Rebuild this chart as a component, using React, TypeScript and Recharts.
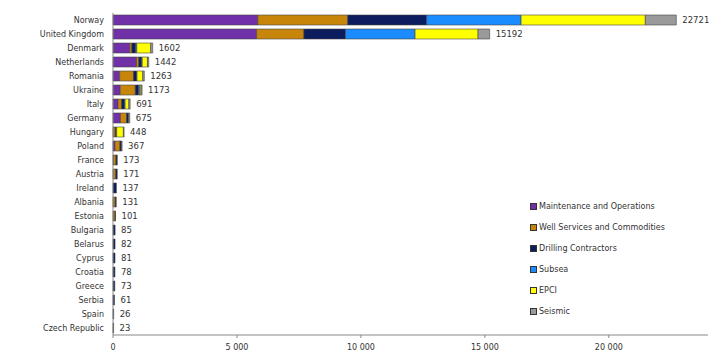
import { BarChart, Bar, XAxis, YAxis, LabelList } from 'recharts'

const countries = [
  'Norway', 'United Kingdom', 'Denmark', 'Netherlands', 'Romania', 'Ukraine', 'Italy', 'Germany',
  'Hungary', 'Poland', 'France', 'Austria', 'Ireland', 'Albania', 'Estonia', 'Bulgaria', 'Belarus',
  'Cyprus', 'Croatia', 'Greece', 'Serbia', 'Spain', 'Czech Republic',
]
const maintenance = [5842, 5790, 680, 950, 270, 290, 200, 300, 0, 80, 20, 0, 0, 0, 0, 0, 0, 0, 0, 0, 0, 0, 0]
const wellServices = [3626, 1910, 80, 90, 560, 610, 150, 250, 90, 200, 100, 110, 0, 90, 80, 0, 0, 0, 0, 0, 0, 0, 0]
const drilling = [3183, 1680, 160, 120, 120, 140, 120, 80, 60, 60, 53, 61, 137, 41, 21, 85, 82, 81, 78, 73, 61, 26, 23]
const subsea = [3811, 2805, 40, 20, 20, 40, 20, 0, 0, 0, 0, 0, 0, 0, 0, 0, 0, 0, 0, 0, 0, 0, 0]
const epci = [5010, 2540, 560, 210, 230, 50, 150, 0, 270, 0, 0, 0, 0, 0, 0, 0, 0, 0, 0, 0, 0, 0, 0]
const seismic = [1249, 467, 82, 52, 63, 43, 51, 45, 28, 27, 0, 0, 0, 0, 0, 0, 0, 0, 0, 0, 0, 0, 0]
const totals = [22721, 15192, 1602, 1442, 1263, 1173, 691, 675, 448, 367, 173, 171, 137, 131, 101, 85, 82, 81, 78, 73, 61, 26, 23]
const xTicks = [0, 5000, 10000, 15000, 20000]

const series = [
  { key: 'maintenance', name: 'Maintenance and Operations', color: '#7030a8' },
  { key: 'wellServices', name: 'Well Services and Commodities', color: '#c7860a' },
  { key: 'drilling', name: 'Drilling Contractors', color: '#0b1d5e' },
  { key: 'subsea', name: 'Subsea', color: '#1a8cff' },
  { key: 'epci', name: 'EPCI', color: '#ffff00' },
  { key: 'seismic', name: 'Seismic', color: '#9a9a9a' },
]

const data = countries.map((c, i) => ({
  country: c,
  maintenance: maintenance[i],
  wellServices: wellServices[i],
  drilling: drilling[i],
  subsea: subsea[i],
  epci: epci[i],
  seismic: seismic[i],
  total: totals[i],
}))

const font = '"DejaVu Sans", Verdana, sans-serif'

// drilling is non-zero in every row, so its segment gives the px-per-unit to find the end of the stack
const TotalLabel = (props: any) => {
  const { x, y, width, height, index } = props
  const k = width / drilling[index]
  const end = x + width + (subsea[index] + epci[index] + seismic[index]) * k
  return (
    <text x={end + 6} y={y + height / 2} dy={3} fontSize={8.5} fill="#333" fontFamily={font}>
      {totals[index]}
    </text>
  )
}

export default function App() {
  return (
    <div style={{ position: 'absolute', left: 0, top: 0, width: 727, height: 362, background: '#fff' }}>
      <BarChart width={727} height={362} data={data} layout="vertical"
        margin={{ top: 13, right: 19, left: 0, bottom: 0 }} barCategoryGap={2}>
        <XAxis type="number" domain={[0, 24000]} ticks={xTicks} height={27}
          tick={{ fontSize: 8, fill: '#333', fontFamily: font }} tickLine={{ stroke: '#888' }} tickSize={3}
          tickMargin={6} axisLine={{ stroke: '#888' }}
          tickFormatter={v => v.toLocaleString('fr-FR').replace(/\s/g, ' ')} />
        <YAxis type="category" dataKey="country" width={113} interval={0}
          tick={{ fontSize: 8, fill: '#333', fontFamily: font }} tickLine={false} tickMargin={3}
          axisLine={{ stroke: '#888' }} />
        {series.map(s => (
          <Bar key={s.key} dataKey={s.key} name={s.name} stackId="a" fill={s.color}
            stroke="#444" strokeWidth={0.6} isAnimationActive={false}>
            {s.key === 'drilling' && <LabelList dataKey="total" content={TotalLabel} />}
          </Bar>
        ))}
      </BarChart>
      <div style={{ position: 'absolute', left: 530, top: 196, fontFamily: font, fontSize: 8, color: '#333' }}>
        {series.map(s => (
          <div key={s.key} style={{ display: 'flex', alignItems: 'center', height: 21 }}>
            <span style={{ width: 5, height: 5, background: s.color, border: '1px solid #333', marginRight: 2 }} />
            {s.name}
          </div>
        ))}
      </div>
    </div>
  )
}
